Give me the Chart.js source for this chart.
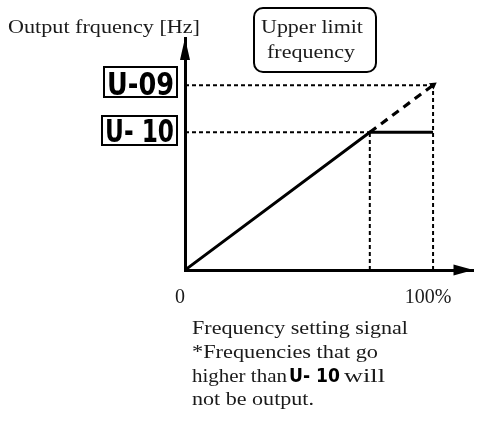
<!DOCTYPE html>
<html>
<head>
<meta charset="utf-8">
<script src="https://cdn.jsdelivr.net/npm/chart.js@4.4.1/dist/chart.umd.min.js"></script>
<style>
  html, body { margin: 0; padding: 0; background: #fff; }
  #wrap { position: relative; width: 478px; height: 423px; overflow: hidden; }
  #c { position: absolute; left: 0; top: 0; }
  .t { position: absolute; font-family: "Liberation Serif", "Times New Roman", serif; font-size: 19px; color: #1a1a1a; white-space: nowrap; line-height: 1; transform-origin: 0 0; }
  .seg { position: absolute; font-family: "DejaVu Sans", sans-serif; font-weight: bold; color: #000; white-space: pre; line-height: 1; transform-origin: 0 0; }
  .box { position: absolute; border: 2px solid #000; box-sizing: border-box; }
</style>
</head>
<body>
<div id="wrap">
  <canvas id="c" width="478" height="423"></canvas>

  <div class="t" data-w="192" style="left:8px; top:17px;">Output frquency [Hz]</div>

  <div class="box" style="left:253px; top:7px; width:124px; height:66px; border-radius:10px;"></div>
  <div class="t" data-w="102" style="left:261px; top:17px;">Upper limit</div>
  <div class="t" data-w="88"  style="left:267px; top:42px;">frequency</div>

  <div class="box" style="left:103px; top:66px; width:75px; height:32px;"></div>
  <div class="seg" data-w="67" style="left:107px; top:68px; font-size:32px;">U-09</div>
  <div class="box" style="left:101px; top:115px; width:77px; height:31px;"></div>
  <div class="seg" data-w="69" style="left:105px; top:115px; font-size:32px;">U- 10</div>

  <div class="t" data-w="216" style="left:192px; top:318px;">Frequency setting signal</div>
  <div class="t" data-w="186" style="left:192px; top:342px;">*Frequencies that go</div>
  <div class="t" data-w="95"  style="left:192px; top:366px;">higher than</div>
  <div class="seg" data-w="51" style="left:289px; top:366px; font-size:19px;">U- 10</div>
  <div class="t" data-w="41"  style="left:344px; top:366px;">will</div>
  <div class="t" data-w="122" style="left:192px; top:389px;">not be output.</div>
</div>

<script>
// ---- data ----
const signalPercent      = [0, 74.5, 100];        // frequency setting signal (%)
const outputFrequency    = [0, 74.5, 74.5];       // output (clamped at U-10)
const unclampedSignal    = [74.5, 100];
const unclampedFrequency = [74.5, 100];           // would-be output without limit
const upperLimitU09      = 100;                   // U-09 level
const upperLimitU10      = 74.5;                  // U-10 level
const kneeSignal         = 74.5;
const fullSignal         = 100;
const xTickValues        = [0, 100];
const xTickLabels        = ['0', '100%'];
const xMax = 116.3;
const yMax = 125.5;

// stretch text horizontally to the widths seen in the reference
function fitText() {
  document.querySelectorAll('[data-w]').forEach(el => {
    el.style.transform = 'none';
    const w = el.getBoundingClientRect().width;
    if (w > 0) el.style.transform = 'scaleX(' + (parseFloat(el.dataset.w) / w) + ')';
  });
}
fitText();
if (document.fonts && document.fonts.ready) document.fonts.ready.then(fitText);

const pts = (xs, ys) => xs.map((x, i) => ({ x: x, y: ys[i] }));

const dotted = { borderColor: '#000', borderWidth: 2, borderDash: [4, 3], pointRadius: 0, showLine: true, fill: false };

const datasets = [
  Object.assign({ data: pts([0, fullSignal], [upperLimitU09, upperLimitU09]) }, dotted),
  Object.assign({ data: pts([0, kneeSignal], [upperLimitU10, upperLimitU10]) }, dotted),
  Object.assign({ data: pts([kneeSignal, kneeSignal], [0, upperLimitU10]) }, dotted),
  Object.assign({ data: pts([fullSignal, fullSignal], [0, upperLimitU09]) }, dotted),
  {
    data: pts(unclampedSignal, unclampedFrequency),
    borderColor: '#000', borderWidth: 3.2, borderDash: [8, 6], showLine: true, fill: false,
    pointRadius: [0, 4.5], pointStyle: 'triangle', pointRotation: 54,
    backgroundColor: '#000', pointBorderWidth: 0
  },
  {
    data: pts(signalPercent, outputFrequency),
    borderColor: '#000', borderWidth: 3, showLine: true, fill: false, pointRadius: 0
  }
];

const arrowPlugin = {
  id: 'axisArrows',
  afterDatasetsDraw(chart) {
    const ctx = chart.ctx;
    const xs = chart.scales.x, ys = chart.scales.y;
    const x0 = xs.getPixelForValue(0), y0 = ys.getPixelForValue(0);
    ctx.save();
    ctx.fillStyle = '#000';
    const xr = xs.right;
    ctx.beginPath();
    ctx.moveTo(xr, y0);
    ctx.lineTo(xr - 20, y0 - 5.5);
    ctx.lineTo(xr - 20, y0 + 5.5);
    ctx.closePath();
    ctx.fill();
    const yt = ys.top;
    ctx.beginPath();
    ctx.moveTo(x0, yt);
    ctx.lineTo(x0 - 5, yt + 22);
    ctx.lineTo(x0 + 5, yt + 22);
    ctx.closePath();
    ctx.fill();
    ctx.restore();
  }
};

new Chart(document.getElementById('c'), {
  type: 'scatter',
  data: { datasets: datasets },
  options: {
    responsive: false,
    animation: false,
    events: [],
    layout: { padding: { left: 185, top: 38, right: -2, bottom: 97 } },
    plugins: { legend: { display: false }, tooltip: { enabled: false }, title: { display: false } },
    scales: {
      x: {
        type: 'linear', min: 0, max: xMax,
        grid: { display: false, drawTicks: false },
        border: { display: true, color: '#000', width: 3 },
        afterBuildTicks: (scale) => { scale.ticks = xTickValues.map(v => ({ value: v })); },
        afterFit: (scale) => { scale.paddingLeft = 0; scale.paddingRight = 0; },
        ticks: {
          padding: 16, labelOffset: -5, maxRotation: 0, autoSkip: false,
          color: '#1a1a1a',
          font: { family: '"Liberation Serif", serif', size: 20 },
          callback: (v) => xTickLabels[xTickValues.indexOf(v)]
        }
      },
      y: {
        type: 'linear', min: 0, max: yMax,
        grid: { display: false, drawTicks: false },
        border: { display: true, color: '#000', width: 3 },
        ticks: { display: false }
      }
    }
  },
  plugins: [arrowPlugin]
});
</script>
</body>
</html>
